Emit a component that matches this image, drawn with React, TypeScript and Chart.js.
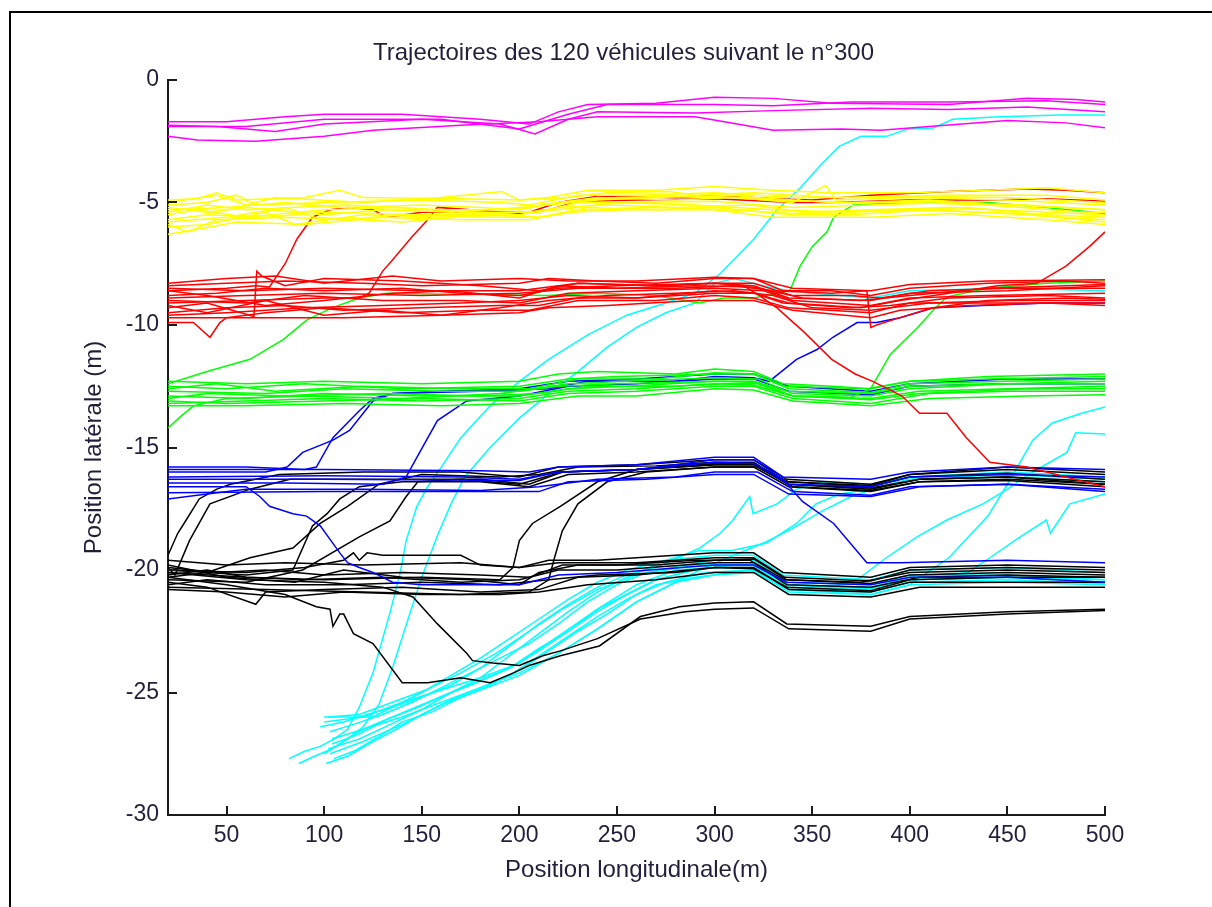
import React, { useEffect, useRef } from "react";
import { Chart, registerables } from "chart.js";

Chart.register(...registerables);

// Each trajectory is a flat list: x0, y0, x1, y1, ... (metres)
const magentaTracks: number[][] = [
  [20, -1.7, 50, -1.7, 80, -1.5, 100, -1.4, 140, -1.4, 180, -1.6, 205, -1.8, 220, -1.3, 235, -1.0, 270, -0.95, 300, -0.7, 330, -0.75, 360, -0.95, 420, -1.0, 460, -0.75, 485, -0.8, 500, -0.9],
  [20, -1.9, 60, -1.9, 100, -1.6, 160, -1.6, 200, -2.0, 225, -1.4, 245, -1.0, 300, -1.0, 330, -1.05, 370, -0.9, 420, -0.9, 470, -0.85, 500, -1.0],
  [20, -1.85, 45, -1.9, 75, -2.1, 100, -1.8, 150, -1.6, 190, -1.8, 208, -2.2, 225, -1.6, 240, -1.3, 290, -1.35, 330, -1.25, 380, -1.15, 420, -1.2, 460, -1.1, 500, -1.3],
  [20, -2.3, 35, -2.45, 65, -2.5, 100, -2.3, 125, -2.05, 170, -1.85, 210, -1.7, 240, -1.5, 290, -1.5, 305, -1.7, 330, -2.05, 365, -2.0, 385, -2.05, 410, -1.9, 450, -1.65, 480, -1.75, 500, -1.95],
];

const yellowTracks: number[][] = [
  [20, -4.9, 35, -4.85, 45, -4.6, 55, -4.9, 90, -4.8, 108, -4.5, 120, -4.8, 170, -4.85, 200, -4.9, 215, -4.8, 235, -4.5, 270, -4.5, 300, -4.35, 330, -4.5, 360, -4.6, 400, -4.6, 440, -4.5, 470, -4.4, 500, -4.6],
  [20, -5.1, 40, -5.0, 55, -4.7, 65, -5.1, 100, -5.0, 150, -4.9, 190, -5.0, 205, -5.1, 230, -4.7, 260, -4.7, 300, -4.6, 340, -4.8, 370, -4.8, 420, -4.7, 470, -4.7, 500, -4.9],
  [20, -5.3, 50, -5.2, 80, -5.0, 110, -5.2, 150, -5.1, 180, -5.2, 200, -5.3, 220, -5.0, 240, -4.8, 280, -4.9, 310, -4.8, 340, -5.0, 357, -4.3, 362, -4.9, 400, -4.8, 450, -4.9, 500, -5.1],
  [20, -5.5, 35, -5.3, 60, -5.6, 100, -5.3, 140, -5.2, 170, -5.4, 210, -5.4, 230, -5.0, 260, -5.0, 300, -4.95, 340, -5.2, 380, -5.1, 420, -5.0, 460, -5.1, 500, -5.3],
  [20, -5.7, 40, -5.5, 70, -5.6, 100, -5.4, 150, -5.5, 200, -5.5, 220, -5.2, 245, -5.1, 280, -5.2, 320, -5.1, 345, -5.4, 380, -5.3, 420, -5.2, 470, -5.4, 500, -5.5],
  [20, -5.9, 30, -6.2, 45, -5.7, 80, -5.6, 110, -5.7, 140, -5.5, 190, -5.6, 210, -5.6, 235, -5.2, 270, -5.3, 300, -5.2, 340, -5.5, 370, -5.5, 410, -5.3, 460, -5.5, 500, -5.8],
  [20, -6.3, 35, -6.1, 55, -5.8, 90, -5.9, 130, -5.6, 170, -5.7, 205, -5.7, 225, -5.4, 255, -5.3, 300, -5.3, 330, -5.6, 380, -5.6, 420, -5.45, 470, -5.7, 500, -5.9],
  [20, -5.0, 45, -4.7, 60, -5.1, 75, -4.8, 120, -5.0, 160, -4.8, 191, -4.55, 200, -4.9, 225, -4.8, 245, -4.6, 277, -4.55, 290, -4.7, 320, -4.6, 360, -4.8, 400, -4.75, 450, -4.8, 500, -5.0],
  [20, -6.0, 40, -5.9, 70, -5.4, 85, -5.9, 120, -5.5, 160, -5.6, 200, -5.4, 220, -5.3, 250, -5.0, 290, -5.1, 330, -5.3, 370, -5.4, 430, -5.2, 480, -5.6, 500, -5.7],
  [20, -5.2, 40, -5.4, 60, -5.2, 100, -5.5, 130, -5.3, 165, -5.4, 200, -5.2, 215, -5.1, 240, -4.9, 270, -4.8, 310, -4.7, 330, -4.9, 370, -5.0, 410, -4.9, 450, -5.1, 500, -5.3],
  [20, -5.8, 50, -5.6, 80, -5.2, 95, -5.6, 140, -5.8, 180, -5.5, 210, -5.6, 235, -5.3, 270, -5.2, 305, -5.3, 340, -5.45, 390, -5.3, 440, -5.4, 500, -5.6],
  [20, -5.4, 40, -5.1, 60, -5.3, 110, -5.1, 160, -5.3, 195, -5.3, 220, -5.0, 250, -4.8, 280, -4.75, 320, -4.8, 360, -5.0, 400, -5.0, 440, -5.1, 490, -5.4, 500, -5.4],
];

const redTracks: number[][] = [
  [20, -8.6, 50, -8.5, 65, -8.4, 72, -8.45, 80, -7.5, 86, -6.5, 94, -5.6, 103, -5.3, 112, -5.2, 125, -5.3, 132, -5.6, 150, -5.4, 180, -5.4, 205, -5.4, 220, -5.0, 240, -4.75, 280, -4.8, 300, -4.7, 330, -4.85, 350, -4.9, 380, -4.7, 420, -4.55, 460, -4.45, 480, -4.5, 500, -4.6],
  [20, -9.1, 60, -9.0, 100, -8.9, 118, -8.9, 123, -8.7, 130, -7.8, 135, -7.35, 145, -6.4, 152, -5.8, 158, -5.2, 175, -5.3, 200, -5.45, 215, -5.3, 230, -4.95, 260, -4.9, 300, -4.85, 340, -5.0, 360, -5.0, 400, -4.9, 440, -4.9, 470, -4.85, 500, -4.95],
  [20, -8.4, 50, -8.3, 80, -8.2, 120, -8.3, 150, -8.4, 200, -8.3, 215, -8.1, 240, -8.2, 270, -8.3, 300, -8.1, 320, -8.1, 335, -8.6, 360, -8.6, 380, -8.8, 400, -8.5, 440, -8.3, 480, -8.2, 500, -8.3],
  [20, -8.8, 45, -8.7, 70, -8.5, 100, -8.6, 140, -8.5, 170, -8.7, 200, -8.8, 220, -8.5, 250, -8.4, 300, -8.3, 320, -8.3, 340, -8.8, 370, -8.8, 385, -8.9, 410, -8.6, 450, -8.5, 500, -8.5],
  [20, -9.0, 60, -9.1, 90, -8.8, 130, -9.0, 170, -9.0, 200, -9.1, 225, -8.7, 260, -8.6, 300, -8.5, 325, -8.6, 340, -9.0, 380, -9.2, 400, -8.9, 440, -8.8, 500, -8.7],
  [20, -9.3, 40, -9.1, 64, -9.65, 65.5, -7.8, 68, -8.0, 80, -8.4, 100, -8.1, 140, -8.2, 180, -8.4, 210, -8.6, 230, -8.3, 270, -8.4, 300, -8.3, 320, -8.4, 338, -8.9, 380, -9.0, 400, -8.7, 450, -8.6, 500, -8.4],
  [20, -9.9, 33, -9.9, 41.5, -10.5, 46.6, -9.9, 50, -9.7, 70, -9.5, 100, -9.3, 140, -9.5, 180, -9.4, 205, -9.4, 230, -9.0, 270, -9.0, 300, -8.8, 320, -8.9, 338, -9.3, 380, -9.5, 400, -9.1, 450, -9.1, 500, -9.1],
  [20, -9.5, 50, -9.3, 80, -9.2, 110, -9.4, 150, -9.3, 190, -9.2, 210, -9.2, 230, -8.9, 260, -8.9, 300, -8.7, 320, -8.7, 335, -9.1, 370, -9.3, 390, -9.2, 420, -8.9, 470, -8.8, 500, -8.9],
  [20, -8.6, 40, -8.8, 70, -9.2, 100, -9.0, 135, -8.7, 165, -8.6, 200, -8.9, 220, -8.4, 250, -8.5, 290, -8.4, 320, -8.45, 345, -8.9, 375, -9.0, 400, -8.8, 440, -8.5, 500, -8.35],
  [20, -9.2, 40, -9.5, 70, -9.0, 100, -9.6, 130, -9.4, 160, -9.6, 190, -9.3, 215, -9.0, 245, -8.8, 280, -8.7, 310, -8.6, 330, -8.8, 350, -9.3, 380, -9.4, 410, -9.1, 450, -9.0, 500, -9.0],
  [20, -8.9, 60, -8.8, 100, -8.7, 150, -8.8, 200, -8.7, 230, -8.5, 280, -8.5, 310, -8.4, 330, -8.6, 360, -8.7, 378, -8.6, 380, -10.1, 383, -10.0, 395, -9.7, 412, -9.3, 440, -9.0, 480, -8.9, 500, -8.95],
  [20, -8.5, 60, -8.6, 100, -8.5, 150, -8.6, 200, -8.6, 230, -8.3, 270, -8.4, 300, -8.3, 315, -8.4, 323, -8.8, 332, -9.3, 346, -10.3, 360, -11.4, 372, -12.0, 381, -12.3, 396, -12.9, 405, -13.6, 419, -13.6, 429, -14.6, 441, -15.6, 460, -15.8, 480, -16.2, 500, -16.6],
  [20, -9.6, 50, -9.5, 90, -9.3, 130, -9.2, 170, -9.1, 200, -9.0, 225, -8.8, 260, -8.9, 300, -8.6, 320, -8.7, 338, -9.1, 375, -9.3, 395, -9.0, 420, -8.7, 445, -8.4, 465, -8.3, 480, -7.6, 492, -6.8, 500, -6.2],
  [20, -8.3, 50, -8.1, 75, -8.0, 100, -8.3, 135, -8.0, 160, -8.2, 200, -8.1, 225, -8.2, 260, -8.2, 300, -8.05, 320, -8.1, 340, -8.5, 380, -8.6, 400, -8.35, 440, -8.2, 500, -8.15],
  [20, -9.7, 60, -9.7, 110, -9.7, 160, -9.6, 200, -9.5, 215, -9.3, 245, -9.2, 290, -9.0, 320, -9.0, 340, -9.4, 380, -9.7, 395, -9.4, 430, -9.2, 470, -9.1, 500, -9.2],
];

const greenTracks: number[][] = [
  [20, -12.3, 60, -12.4, 100, -12.3, 150, -12.4, 200, -12.3, 220, -12.0, 240, -11.9, 280, -12.0, 300, -11.8, 320, -11.9, 335, -12.4, 360, -12.5, 380, -12.6, 400, -12.3, 440, -12.1, 500, -12.0],
  [20, -12.5, 50, -12.6, 90, -12.4, 140, -12.6, 200, -12.5, 225, -12.2, 250, -12.1, 300, -12.0, 320, -12.0, 338, -12.6, 380, -12.75, 400, -12.4, 450, -12.3, 500, -12.2],
  [20, -12.7, 70, -12.8, 110, -12.6, 160, -12.7, 200, -12.7, 225, -12.4, 255, -12.3, 300, -12.15, 322, -12.2, 340, -12.8, 380, -12.9, 400, -12.6, 450, -12.4, 500, -12.4],
  [20, -12.9, 60, -13.0, 100, -12.8, 150, -12.9, 200, -12.9, 225, -12.6, 255, -12.5, 300, -12.3, 322, -12.35, 340, -12.9, 380, -13.0, 405, -12.7, 450, -12.6, 500, -12.5],
  [20, -13.1, 50, -13.2, 100, -13.1, 150, -13.0, 200, -13.1, 225, -12.8, 260, -12.7, 300, -12.5, 320, -12.5, 340, -13.0, 380, -13.2, 410, -12.8, 450, -12.7, 500, -12.7],
  [20, -13.3, 60, -13.3, 110, -13.2, 160, -13.3, 200, -13.2, 230, -12.9, 260, -12.9, 300, -12.6, 320, -12.65, 340, -13.1, 380, -13.3, 410, -13.0, 460, -12.9, 500, -12.85],
  [20, -14.2, 27, -13.7, 33, -13.3, 50, -13.0, 90, -12.9, 140, -13.0, 190, -12.8, 220, -12.5, 250, -12.4, 300, -12.3, 320, -12.3, 337, -12.7, 380, -12.8, 400, -12.5, 450, -12.4, 500, -12.3],
  [20, -12.6, 45, -12.4, 75, -12.7, 120, -12.5, 170, -12.6, 205, -12.6, 230, -12.2, 270, -12.2, 300, -11.95, 320, -12.0, 336, -12.5, 378, -12.6, 400, -12.3, 440, -12.2, 500, -12.1],
  [20, -13.0, 40, -12.8, 80, -12.9, 130, -12.8, 180, -12.9, 210, -12.8, 235, -12.5, 280, -12.5, 305, -12.4, 322, -12.4, 340, -12.9, 380, -13.05, 405, -12.8, 460, -12.6, 500, -12.6],
  [20, -12.4, 40, -11.9, 62, -11.4, 79, -10.6, 91, -9.8, 104, -9.3, 118, -8.9, 132, -8.7, 170, -8.75, 214, -8.8, 240, -8.7, 270, -8.8, 292, -9.1, 305, -8.9, 320, -8.9, 332, -8.7, 338.6, -8.6, 343.8, -7.6, 350, -6.8, 357.6, -6.2, 361, -5.6, 371, -5.1, 400, -5.0, 440, -5.0, 470, -5.2, 500, -5.45],
  [20, -13.2, 60, -13.1, 100, -13.0, 150, -13.1, 200, -13.0, 225, -12.7, 260, -12.6, 300, -12.4, 320, -12.45, 340, -12.9, 370, -12.95, 380, -12.6, 390, -11.2, 404, -10.1, 412, -9.4, 419, -8.85, 440, -8.5, 470, -8.3, 500, -8.2],
];

const blueTracks: number[][] = [
  [20, -16.0, 50, -16.0, 70, -16.0, 81, -15.8, 89, -15.2, 104.5, -14.7, 113, -14.3, 120, -13.6, 125, -13.1, 135, -12.8, 160, -12.7, 200, -12.6, 225, -12.3, 260, -12.2, 300, -12.0, 320, -12.0, 338, -12.5, 380, -12.7, 400, -12.4, 450, -12.2, 500, -12.2],
  [20, -15.8, 60, -15.8, 90, -15.9, 96, -15.8, 104.5, -14.6, 118, -13.5, 125, -13.0, 135, -12.8, 180, -12.7, 215, -12.6, 235, -12.3, 280, -12.3, 300, -12.1, 320, -12.15, 328, -12.3, 342, -11.4, 352.5, -11.0, 360.6, -10.5, 373, -9.9, 383, -9.9, 395, -9.7, 412, -9.3, 437.5, -9.2, 470, -9.1, 500, -9.1],
  [20, -16.45, 80, -16.45, 130, -16.5, 142, -16.2, 147.5, -15.4, 158, -13.9, 173, -13.1, 200, -12.9, 225, -12.5, 260, -12.4, 300, -12.2, 320, -12.2, 338, -12.7, 380, -12.85, 400, -12.5, 450, -12.4, 500, -12.4],
  [20, -16.6, 50, -16.6, 60, -16.6, 67, -17.0, 72, -17.4, 84, -17.7, 91, -17.8, 98, -18.2, 108, -19.3, 112, -19.7, 118, -19.9, 125, -20.1, 135, -20.5, 150, -20.6, 200, -20.6, 220, -20.2, 250, -20.1, 300, -19.8, 320, -19.8, 337, -20.5, 380, -20.6, 400, -20.3, 450, -20.3, 500, -20.5],
  [20, -15.9, 100, -15.9, 180, -15.95, 205, -16.0, 220, -15.8, 260, -15.7, 300, -15.4, 320, -15.4, 335, -16.2, 380, -16.3, 400, -16.0, 450, -15.8, 500, -15.9],
  [20, -16.2, 100, -16.15, 170, -16.2, 200, -16.3, 220, -16.0, 260, -15.9, 300, -15.6, 320, -15.65, 338, -16.5, 380, -16.6, 400, -16.2, 450, -16.1, 500, -16.2],
  [20, -16.85, 100, -16.8, 190, -16.8, 210, -16.8, 225, -16.4, 265, -16.3, 300, -16.1, 320, -16.1, 338, -16.9, 380, -17.0, 405, -16.6, 450, -16.5, 500, -16.7],
  [20, -16.3, 100, -16.3, 200, -16.35, 220, -16.0, 260, -15.9, 300, -15.5, 320, -15.5, 335, -16.3, 345, -17.2, 361, -18.1, 378, -19.7, 395, -19.7, 450, -19.6, 500, -19.7],
  [20, -17.1, 40, -16.9, 60, -16.7, 120, -16.7, 180, -16.75, 210, -16.6, 240, -16.3, 280, -16.2, 300, -16.0, 322, -16.0, 340, -16.8, 380, -16.95, 400, -16.6, 450, -16.5, 500, -16.8],
];

const blackTracks: number[][] = [
  [20, -19.6, 50, -19.8, 80, -19.7, 120, -19.8, 170, -19.7, 200, -19.9, 215, -19.6, 240, -19.6, 280, -19.4, 300, -19.3, 320, -19.3, 335, -20.1, 380, -20.3, 400, -19.9, 450, -19.8, 500, -19.9],
  [20, -19.9, 45, -20.1, 70, -20.0, 100, -20.2, 140, -20.1, 180, -20.2, 205, -20.3, 222, -19.8, 250, -19.8, 290, -19.6, 318, -19.6, 336, -20.4, 375, -20.5, 400, -20.1, 450, -20.0, 500, -20.1],
  [20, -20.2, 40, -20.0, 60, -20.3, 90, -20.4, 130, -20.3, 170, -20.5, 200, -20.4, 220, -20.0, 250, -20.0, 300, -19.7, 320, -19.7, 337, -20.6, 380, -20.7, 405, -20.3, 450, -20.2, 500, -20.3],
  [20, -20.5, 40, -20.7, 65, -21.4, 70, -20.9, 100, -20.8, 140, -20.7, 180, -20.9, 210, -20.8, 230, -20.3, 260, -20.2, 300, -19.9, 320, -19.9, 338, -20.8, 380, -20.9, 400, -20.5, 450, -20.5, 500, -20.5],
  [20, -20.8, 50, -20.9, 80, -21.1, 110, -20.9, 150, -21.0, 190, -21.0, 210, -20.9, 235, -20.6, 270, -20.4, 300, -20.1, 320, -20.1, 338, -21.0, 380, -21.1, 405, -20.7, 450, -20.7, 500, -20.7],
  [20, -20.0, 60, -20.1, 90, -19.9, 110, -19.6, 115, -19.3, 118, -19.6, 122, -19.3, 130, -19.4, 170, -19.4, 180, -19.8, 200, -19.9, 220, -19.7, 260, -19.7, 300, -19.5, 320, -19.5, 336, -20.3, 380, -20.45, 400, -20.0, 450, -19.9, 500, -20.0],
  [20, -20.3, 50, -20.6, 80, -21.0, 96, -21.5, 103, -21.6, 104.5, -22.3, 108, -21.8, 110, -21.8, 115, -22.6, 125, -23.0, 140, -24.6, 153, -24.6, 170, -24.4, 185, -24.6, 197, -24.2, 205, -23.9, 221, -23.5, 241, -23.1, 262, -21.9, 282, -21.5, 300, -21.35, 320, -21.3, 337, -22.2, 380, -22.3, 400, -21.9, 450, -21.7, 500, -21.6],
  [20, -20.1, 60, -20.4, 100, -20.5, 130, -20.7, 145.5, -21.1, 158, -22.2, 173, -23.4, 176, -23.7, 186.5, -23.8, 200, -23.9, 212, -23.5, 221, -23.3, 240, -22.8, 262, -22.0, 285, -21.7, 300, -21.6, 320, -21.55, 338, -22.4, 380, -22.5, 400, -22.0, 450, -21.8, 500, -21.65],
  [20, -20.6, 40, -20.4, 70, -20.6, 110, -20.6, 150, -20.5, 190, -20.6, 215, -20.4, 240, -20.2, 280, -20.1, 300, -19.9, 320, -19.95, 337, -20.7, 380, -20.85, 400, -20.4, 450, -20.3, 500, -20.3],
  [20, -19.8, 50, -20.3, 85, -20.5, 110, -20.0, 140, -20.3, 175, -20.4, 200, -20.6, 210, -20.1, 230, -19.8, 270, -19.8, 300, -19.6, 320, -19.55, 337, -20.4, 380, -20.55, 400, -20.2, 450, -20.1, 500, -20.2],
  [20, -19.4, 25, -18.5, 29, -18.0, 36, -17.1, 45, -16.7, 52, -16.5, 77, -16.1, 120, -16.0, 170, -16.0, 200, -16.2, 220, -15.8, 260, -15.7, 300, -15.5, 320, -15.5, 337, -16.3, 380, -16.5, 400, -16.1, 450, -15.8, 500, -16.0],
  [20, -19.9, 23.6, -20.2, 31, -18.8, 41.5, -17.3, 62, -16.7, 82.5, -16.3, 130, -16.3, 180, -16.3, 205, -16.5, 222, -16.0, 260, -15.9, 300, -15.7, 320, -15.7, 338, -16.5, 380, -16.65, 405, -16.3, 450, -16.2, 500, -16.4],
  [20, -20.3, 40, -20.1, 62, -19.5, 84, -19.1, 98, -18.1, 112, -17.4, 128, -16.5, 150, -16.1, 190, -16.2, 210, -16.1, 230, -15.8, 270, -15.75, 300, -15.6, 320, -15.6, 336, -16.4, 380, -16.55, 400, -16.1, 450, -15.9, 500, -16.1],
  [20, -20.0, 60, -20.2, 84, -20.0, 94, -18.2, 101.5, -17.7, 108, -17.1, 118, -16.6, 140, -16.4, 180, -16.4, 205, -16.6, 225, -16.1, 260, -16.0, 300, -15.8, 322, -15.8, 340, -16.6, 380, -16.75, 405, -16.4, 450, -16.3, 500, -16.5],
  [20, -20.4, 60, -20.5, 89, -20.0, 118, -18.65, 133.7, -18.0, 142, -17.0, 148, -16.4, 170, -16.3, 200, -16.5, 222, -16.0, 260, -15.9, 300, -15.65, 320, -15.65, 338, -16.4, 380, -16.6, 400, -16.2, 450, -16.05, 500, -16.3],
  [20, -20.1, 60, -20.3, 100, -20.4, 150, -20.3, 190, -20.4, 196.7, -19.9, 200, -18.8, 206.7, -18.1, 221, -17.4, 240, -16.4, 260, -15.9, 300, -15.7, 320, -15.7, 338, -16.5, 380, -16.7, 405, -16.3, 450, -16.2, 500, -16.5],
  [20, -20.7, 70, -20.8, 120, -20.9, 170, -21.0, 205, -20.9, 215, -20.4, 218, -19.5, 222, -18.4, 230, -17.3, 245, -16.4, 265, -16.0, 300, -15.8, 320, -15.8, 338, -16.6, 380, -16.8, 405, -16.4, 450, -16.35, 500, -16.6],
];

const cyanTracks: number[][] = [
  [82, -27.7, 90, -27.4, 98, -27.2, 105, -26.9, 112, -26.5, 118, -25.6, 125, -24.2, 133.7, -21.75, 139, -20.1, 142, -18.8, 147.5, -17.4, 153, -16.6, 160, -15.8, 170, -14.6, 185, -13.3, 200, -12.3, 215, -11.4, 235, -10.4, 255, -9.6, 275, -9.1, 290, -8.7, 303, -7.9, 320, -6.5, 332, -5.3, 344, -4.4, 354, -3.5, 364, -2.7, 375, -2.3, 388, -2.3, 399, -2.0, 412, -1.96, 422, -1.6, 446, -1.5, 477, -1.43, 500, -1.43],
  [100, -27.5, 110, -27.0, 120, -26.4, 128, -25.5, 135, -24.0, 143, -22.0, 150, -20.3, 158, -18.6, 165, -17.3, 172, -16.2, 185, -15.0, 200, -13.8, 215, -12.8, 230, -11.9, 245, -10.9, 260, -10.1, 275, -9.5, 290, -9.1, 300, -8.3, 310, -8.1, 330, -8.5, 350, -8.7, 380, -8.9, 400, -8.6, 450, -8.5, 500, -8.6],
  [100, -26.0, 112, -26.0, 125, -26.0, 135, -25.6, 150, -25.0, 165, -24.3, 180, -23.6, 195, -22.8, 210, -22.0, 225, -21.2, 240, -20.5, 255, -20.0, 275, -19.6, 300, -19.4, 320, -19.4, 335, -20.2, 380, -20.4, 400, -20.0, 450, -19.9, 500, -20.1],
  [103, -26.6, 115, -26.3, 130, -25.9, 145, -25.4, 160, -24.8, 175, -24.2, 190, -23.6, 205, -23.0, 220, -22.2, 235, -21.3, 250, -20.6, 265, -20.1, 285, -19.8, 300, -19.6, 320, -19.6, 337, -20.5, 380, -20.6, 400, -20.2, 450, -20.2, 500, -20.4],
  [104, -27.1, 118, -26.7, 132, -26.1, 148, -25.6, 162, -25.1, 178, -24.6, 195, -24.0, 210, -23.2, 225, -22.5, 240, -21.6, 255, -21.0, 270, -20.4, 290, -20.0, 300, -19.8, 320, -19.8, 338, -20.7, 380, -20.8, 400, -20.4, 450, -20.3, 500, -20.5],
  [105, -27.7, 115, -27.4, 128, -26.8, 140, -26.2, 155, -25.8, 170, -25.2, 185, -24.7, 200, -24.1, 215, -23.3, 230, -22.5, 245, -21.8, 260, -21.0, 275, -20.5, 295, -20.1, 320, -20.0, 338, -20.9, 380, -21.0, 400, -20.6, 450, -20.5, 500, -20.6],
  [101, -27.9, 112, -27.6, 125, -27.0, 137, -26.5, 150, -25.9, 165, -25.3, 180, -24.8, 195, -24.3, 210, -23.5, 225, -22.7, 240, -21.9, 255, -21.2, 270, -20.6, 290, -20.3, 310, -20.1, 320, -20.1, 338, -20.8, 380, -20.9, 400, -20.5, 450, -20.4, 500, -20.55],
  [98, -26.4, 110, -26.2, 122, -25.9, 135, -25.6, 150, -25.2, 165, -24.7, 180, -24.0, 195, -23.1, 210, -22.2, 225, -21.4, 240, -20.7, 255, -20.2, 270, -19.9, 292.5, -19.1, 302.8, -18.5, 309, -18.0, 318, -17.0, 319.7, -17.7, 332, -17.3, 342, -16.7, 355, -16.4, 380, -16.5, 400, -16.2, 450, -16.0, 500, -16.2],
  [102, -27.3, 118, -26.9, 134, -26.3, 150, -25.7, 165, -25.0, 180, -24.4, 195, -23.5, 210, -22.6, 225, -21.7, 240, -20.9, 255, -20.3, 275, -19.6, 292.5, -19.2, 309, -19.2, 326.6, -18.9, 342, -18.1, 352, -17.3, 364, -16.9, 380, -16.7, 400, -16.3, 450, -16.2, 500, -16.4],
  [100, -26.2, 120, -26.0, 140, -25.4, 160, -24.9, 180, -24.4, 200, -23.8, 220, -22.7, 240, -21.6, 260, -20.6, 280, -20.0, 300, -19.9, 320, -19.9, 337, -20.6, 360, -20.7, 373, -20.4, 388, -19.5, 403.7, -18.65, 419, -17.96, 437.5, -17.3, 450, -16.7, 463, -16.0, 480.5, -15.2, 485, -14.4, 500, -14.45],
  [104, -26.9, 120, -26.5, 140, -26.0, 160, -25.4, 180, -24.8, 200, -24.2, 220, -23.4, 240, -22.4, 260, -21.3, 280, -20.5, 300, -20.2, 320, -20.1, 338, -20.8, 380, -21.0, 400, -20.6, 420, -19.5, 440, -17.8, 450, -16.5, 463, -14.7, 473, -14.0, 488, -13.6, 500, -13.35],
  [102, -26.0, 118, -25.9, 135, -25.4, 152, -24.9, 170, -24.2, 188, -23.4, 205, -22.5, 222, -21.6, 240, -20.8, 260, -20.2, 290, -19.8, 320, -19.8, 338, -20.6, 380, -20.7, 400, -20.3, 430, -20.1, 441, -19.5, 456.5, -18.65, 470, -17.96, 472, -18.5, 482, -17.3, 500, -16.9],
  [103, -27.5, 120, -27.0, 140, -26.3, 160, -25.5, 180, -24.9, 200, -24.3, 220, -23.4, 240, -22.4, 260, -21.3, 280, -20.5, 295, -19.9, 310, -19.4, 325, -18.9, 340, -18.3, 355, -17.6, 370, -17.0, 385, -16.6, 400, -16.3, 450, -16.1, 500, -16.3],
  [87, -27.9, 95, -27.6, 104, -27.3, 112, -26.9, 120, -26.5, 135, -26.0, 150, -25.5, 165, -25.0, 180, -24.5, 195, -24.0, 210, -23.3, 225, -22.5, 240, -21.7, 255, -21.0, 270, -20.4, 290, -20.0, 310, -19.8, 322, -19.8, 338, -20.6, 380, -20.75, 400, -20.4, 450, -20.3, 500, -20.4],
];

const xTicks = [50, 100, 150, 200, 250, 300, 350, 400, 450, 500];
const yTicks = [-30, -25, -20, -15, -10, -5, 0];

const titleText = "Trajectoires des 120 véhicules suivant le n°300";
const xLabel = "Position longitudinale(m)";
const yLabel = "Position latérale (m)";

const FONT = "'Liberation Sans', Arial, sans-serif";
const TEXT_COLOR = "#231f3a";
const AXIS_COLOR = "#1a1a1a";

// drawn top-most first (Chart.js paints dataset 0 last)
const groups: { tracks: number[][]; color: string }[] = [
  { tracks: magentaTracks, color: "#ff00ff" },
  { tracks: yellowTracks, color: "#ffff00" },
  { tracks: redTracks, color: "#ff0000" },
  { tracks: greenTracks, color: "#00ff00" },
  { tracks: blueTracks, color: "#0000ff" },
  { tracks: blackTracks, color: "#000000" },
  { tracks: cyanTracks, color: "#00ffff" },
];

function toPoints(flat: number[]) {
  const pts: { x: number; y: number }[] = [];
  for (let i = 0; i + 1 < flat.length; i += 2) pts.push({ x: flat[i], y: flat[i + 1] });
  return pts;
}

// inward tick marks and the centred title
const framePlugin = {
  id: "frame",
  afterDraw(chart: any) {
    const { ctx, chartArea, scales } = chart;
    const xs = scales.x;
    const ys = scales.y;
    ctx.save();
    ctx.strokeStyle = AXIS_COLOR;
    ctx.lineWidth = 2;
    ctx.beginPath();
    for (const v of xTicks) {
      const px = Math.round(xs.getPixelForValue(v));
      ctx.moveTo(px, chartArea.bottom);
      ctx.lineTo(px, chartArea.bottom - 9);
    }
    for (const v of yTicks) {
      const py = Math.round(ys.getPixelForValue(v));
      ctx.moveTo(chartArea.left, py);
      ctx.lineTo(chartArea.left + 9, py);
    }
    ctx.stroke();
    ctx.fillStyle = TEXT_COLOR;
    ctx.font = `24px ${FONT}`;
    ctx.textAlign = "center";
    ctx.textBaseline = "alphabetic";
    ctx.fillText(titleText, (chartArea.left + chartArea.right) / 2 - 13, 60);
    ctx.restore();
  },
};

export default function App() {
  const canvasRef = useRef<HTMLCanvasElement | null>(null);

  useEffect(() => {
    const canvas = canvasRef.current;
    if (!canvas) return;
    const datasets: any[] = [];
    groups.forEach((g) => {
      g.tracks.forEach((t) => {
        datasets.push({
          data: toPoints(t),
          borderColor: g.color,
          backgroundColor: g.color,
          borderWidth: 1.5,
          pointRadius: 0,
          showLine: true,
          tension: 0,
          fill: false,
        });
      });
    });

    const chart = new Chart(canvas, {
      type: "scatter",
      data: { datasets },
      options: {
        animation: false,
        responsive: false,
        events: [],
        layout: { padding: { top: 80, right: 107, bottom: 0, left: 0 } },
        plugins: {
          legend: { display: false },
          tooltip: { enabled: false },
          title: { display: false },
        },
        scales: {
          x: {
            type: "linear",
            min: 20,
            max: 500,
            afterBuildTicks: (scale: any) => {
              scale.ticks = xTicks.map((v) => ({ value: v }));
            },
            afterFit: (scale: any) => {
              scale.height = 92;
            },
            grid: { display: true, drawOnChartArea: false, drawTicks: false },
            border: { display: true, color: AXIS_COLOR, width: 2 },
            ticks: {
              color: TEXT_COLOR,
              font: { family: FONT, size: 23 },
              padding: 7,
              maxRotation: 0,
              autoSkip: false,
            },
            title: {
              display: true,
              text: xLabel,
              color: TEXT_COLOR,
              font: { family: FONT, size: 24 },
              padding: { top: 0, bottom: 22 },
            },
          },
          y: {
            type: "linear",
            min: -30,
            max: 0,
            afterBuildTicks: (scale: any) => {
              scale.ticks = yTicks.map((v) => ({ value: v }));
            },
            afterFit: (scale: any) => {
              scale.width = 168;
            },
            grid: { display: true, drawOnChartArea: false, drawTicks: false },
            border: { display: true, color: AXIS_COLOR, width: 2 },
            ticks: {
              color: TEXT_COLOR,
              font: { family: FONT, size: 23 },
              padding: 9,
              autoSkip: false,
            },
            title: {
              display: true,
              text: yLabel,
              color: TEXT_COLOR,
              font: { family: FONT, size: 24 },
              padding: { top: 80, bottom: 0 },
            },
          },
        },
      },
      plugins: [framePlugin],
    });

    return () => chart.destroy();
  }, []);

  return (
    <>
      <div
        style={{
          position: "fixed",
          left: 9,
          top: 11,
          right: 0,
          bottom: 0,
          borderLeft: "2px solid #000",
          borderTop: "2px solid #000",
          pointerEvents: "none",
        }}
      />
      <canvas
        ref={canvasRef}
        width={1212}
        height={907}
        style={{ position: "fixed", left: 0, top: 0, width: 1212, height: 907 }}
      />
    </>
  );
}
